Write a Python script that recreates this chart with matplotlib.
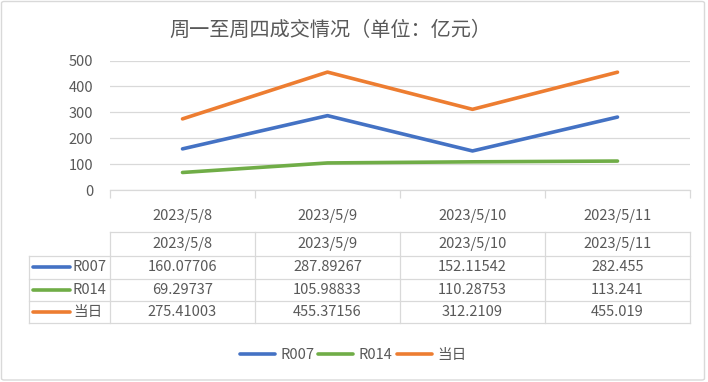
import matplotlib
matplotlib.use("Agg")
import matplotlib.pyplot as plt
from matplotlib import font_manager
from matplotlib.transforms import blended_transform_factory
from matplotlib.patches import FancyBboxPatch
from matplotlib.lines import Line2D

# ---- data ----
dates = ["2023/5/8", "2023/5/9", "2023/5/10", "2023/5/11"]
series_names = ["R007", "R014", "当日"]
r007 = [160.07706, 287.89267, 152.11542, 282.455]
r014 = [69.29737, 105.98833, 110.28753, 113.241]
dangri = [275.41003, 455.37156, 312.2109, 455.019]
y_ticks = [0, 100, 200, 300, 400, 500]
title = "周一至周四成交情况（单位：亿元）"

colors = ["#4472C4", "#70AD47", "#ED7D31"]
text_color = "#595959"
grid_color = "#D9D9D9"

names = {f.name for f in font_manager.fontManager.ttflist}
num_font = "Liberation Sans Narrow" if "Liberation Sans Narrow" in names else "Noto Sans CJK SC"
plt.rcParams["font.family"] = [num_font, "Noto Sans CJK SC", "DejaVu Sans"]

W, H = 708, 382
fig = plt.figure(figsize=(W / 100, H / 100), dpi=100)

def fx(px):
    return px / W

def fy(py):
    return 1 - py / H

# outer border
border = FancyBboxPatch((fx(1.5), fy(380)), fx(704.5) - fx(1.5), fy(1.5) - fy(380),
                        boxstyle="round,pad=0,rounding_size=0.004",
                        transform=fig.transFigure, facecolor="white",
                        edgecolor=grid_color, linewidth=1.0, zorder=-10)
fig.patches.append(border)

ax = fig.add_axes([fx(110), fy(190.5), fx(690) - fx(110), fy(60.5) - fy(190.5)])
ax.set_facecolor("none")

x = list(range(len(dates)))
all_series = [r007, r014, dangri]
for vals, name, c in zip(all_series, series_names, colors):
    ax.plot(x, vals, color=c, linewidth=2.6, solid_capstyle="round", label=name)

ax.set_xlim(-0.5, len(dates) - 0.5)
ax.set_ylim(0, 500)
ax.set_yticks(y_ticks)
ax.set_yticklabels([str(v) for v in y_ticks], fontsize=10.5, color=text_color)
ax.tick_params(axis="y", length=0, pad=12)
ax.grid(axis="y", color=grid_color, linewidth=0.9)
ax.set_axisbelow(True)

# x axis: boundary ticks (major, no labels) and centered labels (minor)
ax.set_xticks([i - 0.5 for i in range(len(dates) + 1)])
ax.set_xticklabels([])
ax.tick_params(axis="x", which="major", length=6, color=grid_color, width=0.9, direction="out")
ax.set_xticks(x, minor=True)
ax.set_xticklabels(dates, minor=True, fontsize=10.5, color=text_color)
ax.tick_params(axis="x", which="minor", length=0, pad=13)

for s in ["top", "right", "left"]:
    ax.spines[s].set_visible(False)
ax.spines["bottom"].set_color(grid_color)
ax.spines["bottom"].set_linewidth(0.9)

# title
fig.text(fx(330), fy(30), title, ha="center", va="center", fontsize=14.5,
         color=text_color, family=["Noto Sans CJK SC", "DejaVu Sans"])

# ---- data table below ----
tr = blended_transform_factory(ax.transData, fig.transFigure)
left_col = -0.5 - 80.6 / 145.0
row_y = [232.3, 256, 278.7, 301, 323.3]
lkw = dict(color=grid_color, linewidth=0.9, transform=tr, clip_on=False)
# horizontal lines
fig.add_artist(Line2D([-0.5, len(dates) - 0.5], [fy(row_y[0])] * 2, **lkw))
for py in row_y[1:]:
    fig.add_artist(Line2D([left_col, len(dates) - 0.5], [fy(py)] * 2, **lkw))
# vertical lines
fig.add_artist(Line2D([left_col, left_col], [fy(row_y[1]), fy(row_y[-1])], **lkw))
for i in range(len(dates) + 1):
    xb = i - 0.5
    fig.add_artist(Line2D([xb, xb], [fy(row_y[0]), fy(row_y[-1])], **lkw))

# header
for i, d in enumerate(dates):
    fig.text(i, fy((row_y[0] + row_y[1]) / 2), d, transform=tr, ha="center", va="center",
             fontsize=10.5, color=text_color)
# rows
for r, (vals, name, c) in enumerate(zip(all_series, series_names, colors)):
    yc = fy((row_y[r + 1] + row_y[r + 2]) / 2)
    fig.add_artist(Line2D([fx(33), fx(70)], [yc, yc], color=c, linewidth=2.6,
                          solid_capstyle="round", transform=fig.transFigure))
    fig.text(fx(73), yc, name, ha="left", va="center", fontsize=10.5, color=text_color)
    for i, v in enumerate(vals):
        fig.text(i, yc, str(v), transform=tr, ha="center", va="center",
                 fontsize=10.5, color=text_color)

# legend
leg = fig.legend(loc="center", bbox_to_anchor=(fx(353), fy(355)), ncol=3, frameon=False,
                 fontsize=10.5, handlelength=2.4, handletextpad=0.35, columnspacing=0.3,
                 labelcolor=text_color)

fig.savefig("out.png", dpi=100)
